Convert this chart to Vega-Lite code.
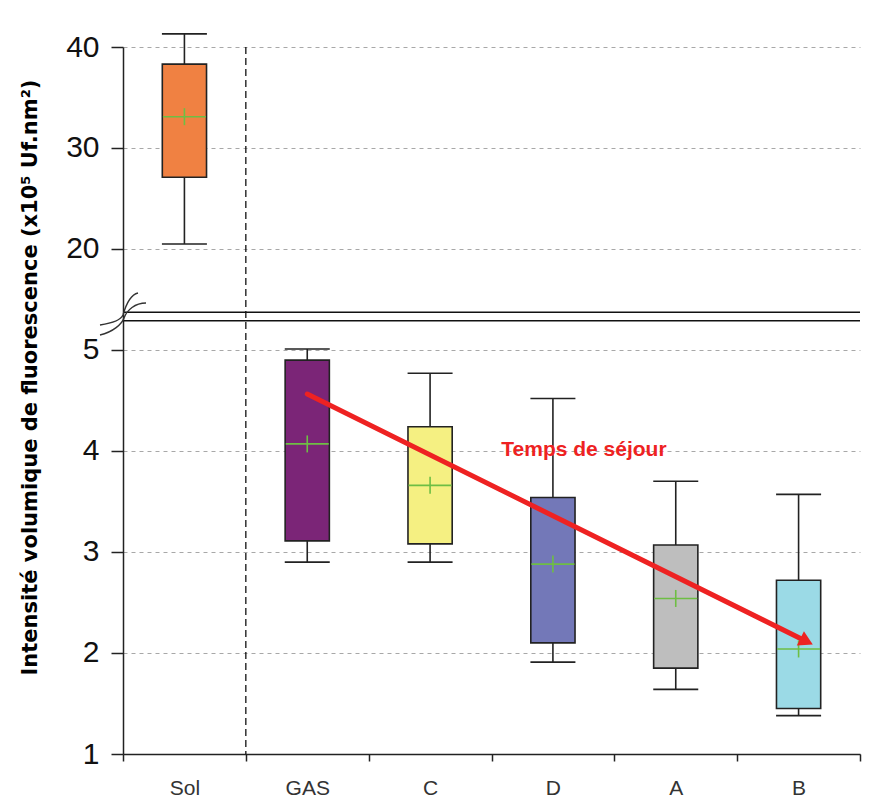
{
  "$schema": "https://vega.github.io/schema/vega-lite/v6.json",
  "width": 737,
  "height": 707,
  "autosize": {"type": "none"},
  "padding": {"left": 123, "top": 47, "right": 11, "bottom": 44},
  "background": "white",
  "config": {
    "view": {"stroke": null},
    "font": "Liberation Sans",
    "axisX": {
      "domainColor": "#222", "domainWidth": 1.5, "tickColor": "#222", "tickWidth": 1.5, "tickSize": 7,
      "tickBand": "extent", "labelFontSize": 21, "labelFont": "Liberation Sans", "labelColor": "#333",
      "labelAngle": 0, "labelBaseline": "alphabetic", "labelPadding": 33, "grid": false
    },
    "axisY": {
      "domainColor": "#222", "domainWidth": 1.5, "tickColor": "#222", "tickWidth": 1.5, "tickSize": 12,
      "labelFontSize": 30, "labelFont": "Liberation Sans", "labelColor": "#111", "labelPadding": 12,
      "grid": true, "gridColor": "#A8A8A8", "gridDash": [4, 4], "gridWidth": 1,
      "titleFont": "DejaVu Sans", "titleFontWeight": "bold", "titleFontSize": 21, "titleColor": "#000"
    }
  },
  "data": {
    "values": [
      {"cat": "Sol", "min": 20.5, "q1": 27.1, "median": 33.1, "mean": 33.1, "q3": 38.3, "max": 41.3},
      {"cat": "GAS", "min": 2.9, "q1": 3.11, "median": 4.07, "mean": 4.07, "q3": 4.9, "max": 5.01},
      {"cat": "C", "min": 2.9, "q1": 3.08, "median": 3.66, "mean": 3.66, "q3": 4.24, "max": 4.77},
      {"cat": "D", "min": 1.91, "q1": 2.1, "median": 2.88, "mean": 2.88, "q3": 3.54, "max": 4.52},
      {"cat": "A", "min": 1.64, "q1": 1.85, "median": 2.54, "mean": 2.54, "q3": 3.07, "max": 3.7},
      {"cat": "B", "min": 1.38, "q1": 1.45, "median": 2.04, "mean": 2.04, "q3": 2.72, "max": 3.57}
    ]
  },
  "layer": [
    {
      "data": {"values": [{"cat": "GAS"}]},
      "mark": {"type": "rule", "color": "#111", "strokeWidth": 1.3, "strokeDash": [7, 4]},
      "encoding": {
        "x": {"field": "cat", "type": "nominal", "bandPosition": 0, "title": null,
              "scale": {"domain": ["Sol", "GAS", "C", "D", "A", "B"], "paddingInner": 0, "paddingOuter": 0}}
      }
    },
    {
      "data": {"values": [{"brk": 5.29}, {"brk": 13.73}]},
      "mark": {"type": "rule", "color": "#111", "strokeWidth": 1.4},
      "encoding": {
        "y": {"field": "brk", "type": "quantitative", "title": "Intensité volumique de fluorescence (x10⁵ Uf.nm²)",
              "scale": {"domain": [1, 5.29, 13.73, 40], "range": [707, 273.7, 265.3, 0], "nice": false, "zero": false},
              "axis": {"values": [1, 2, 3, 4, 5, 20, 30, 40], "format": "d", "titleX": -87, "titleY": 330, "titleAngle": 270, "titleAlign": "center", "titleBaseline": "alphabetic"}}
      }
    },
    {
      "mark": {"type": "rule", "color": "#222", "strokeWidth": 1.6},
      "encoding": {
        "x": {"field": "cat", "type": "nominal", "title": null,
              "scale": {"domain": ["Sol", "GAS", "C", "D", "A", "B"], "paddingInner": 0, "paddingOuter": 0}},
        "y": {"field": "min", "type": "quantitative", "title": "Intensité volumique de fluorescence (x10⁵ Uf.nm²)",
              "scale": {"domain": [1, 5.29, 13.73, 40], "range": [707, 273.7, 265.3, 0], "nice": false, "zero": false}},
        "y2": {"field": "max"}
      }
    },
    {
      "mark": {"type": "tick", "color": "#222", "thickness": 1.6, "size": 45, "opacity": 1},
      "encoding": {
        "x": {"field": "cat", "type": "nominal", "title": null,
              "scale": {"domain": ["Sol", "GAS", "C", "D", "A", "B"], "paddingInner": 0, "paddingOuter": 0}},
        "y": {"field": "min", "type": "quantitative", "title": "Intensité volumique de fluorescence (x10⁵ Uf.nm²)",
              "scale": {"domain": [1, 5.29, 13.73, 40], "range": [707, 273.7, 265.3, 0], "nice": false, "zero": false}}
      }
    },
    {
      "mark": {"type": "tick", "color": "#222", "thickness": 1.6, "size": 45, "opacity": 1},
      "encoding": {
        "x": {"field": "cat", "type": "nominal", "title": null,
              "scale": {"domain": ["Sol", "GAS", "C", "D", "A", "B"], "paddingInner": 0, "paddingOuter": 0}},
        "y": {"field": "max", "type": "quantitative", "title": "Intensité volumique de fluorescence (x10⁵ Uf.nm²)",
              "scale": {"domain": [1, 5.29, 13.73, 40], "range": [707, 273.7, 265.3, 0], "nice": false, "zero": false}}
      }
    },
    {
      "mark": {"type": "bar", "stroke": "#222", "strokeWidth": 1.6, "width": {"band": 0.36}},
      "encoding": {
        "x": {"field": "cat", "type": "nominal", "title": null,
              "scale": {"domain": ["Sol", "GAS", "C", "D", "A", "B"], "paddingInner": 0, "paddingOuter": 0}},
        "y": {"field": "q1", "type": "quantitative", "title": "Intensité volumique de fluorescence (x10⁵ Uf.nm²)",
              "scale": {"domain": [1, 5.29, 13.73, 40], "range": [707, 273.7, 265.3, 0], "nice": false, "zero": false}},
        "y2": {"field": "q3"},
        "fill": {"field": "cat", "type": "nominal", "legend": null,
                 "scale": {"domain": ["Sol", "GAS", "C", "D", "A", "B"], "range": ["#F08142", "#7B2577", "#F5F082", "#7378B8", "#BEBEBE", "#9BDAE6"]}}
      }
    },
    {
      "mark": {"type": "tick", "color": "#6EBE44", "thickness": 1.6, "size": 43, "opacity": 1},
      "encoding": {
        "x": {"field": "cat", "type": "nominal", "title": null,
              "scale": {"domain": ["Sol", "GAS", "C", "D", "A", "B"], "paddingInner": 0, "paddingOuter": 0}},
        "y": {"field": "median", "type": "quantitative", "title": "Intensité volumique de fluorescence (x10⁵ Uf.nm²)",
              "scale": {"domain": [1, 5.29, 13.73, 40], "range": [707, 273.7, 265.3, 0], "nice": false, "zero": false}}
      }
    },
    {
      "mark": {"type": "tick", "orient": "vertical", "color": "#6EBE44", "thickness": 1.6, "size": 17, "opacity": 1},
      "encoding": {
        "x": {"field": "cat", "type": "nominal", "title": null,
              "scale": {"domain": ["Sol", "GAS", "C", "D", "A", "B"], "paddingInner": 0, "paddingOuter": 0}},
        "y": {"field": "mean", "type": "quantitative", "title": "Intensité volumique de fluorescence (x10⁵ Uf.nm²)",
              "scale": {"domain": [1, 5.29, 13.73, 40], "range": [707, 273.7, 265.3, 0], "nice": false, "zero": false}}
      }
    },
    {
      "data": {"values": [{"from": "GAS", "to": "B", "y_start": 4.564, "y_end": 2.114}]},
      "mark": {"type": "rule", "color": "#EE2222", "strokeWidth": 5, "strokeCap": "round", "x2Offset": 8},
      "encoding": {
        "x": {"field": "from", "type": "nominal", "bandPosition": 0.5, "title": null,
              "scale": {"domain": ["Sol", "GAS", "C", "D", "A", "B"], "paddingInner": 0, "paddingOuter": 0}},
        "x2": {"field": "to", "bandPosition": 0.5},
        "y": {"field": "y_start", "type": "quantitative", "title": "Intensité volumique de fluorescence (x10⁵ Uf.nm²)",
              "scale": {"domain": [1, 5.29, 13.73, 40], "range": [707, 273.7, 265.3, 0], "nice": false, "zero": false}},
        "y2": {"field": "y_end"}
      }
    },
    {
      "data": {"values": [{"to": "B", "y_end": 2.114}]},
      "mark": {"type": "point", "shape": "triangle-right", "filled": true, "color": "#EE2222", "size": 256, "angle": 26.35, "xOffset": 8, "opacity": 1},
      "encoding": {
        "x": {"field": "to", "type": "nominal", "title": null,
              "scale": {"domain": ["Sol", "GAS", "C", "D", "A", "B"], "paddingInner": 0, "paddingOuter": 0}},
        "y": {"field": "y_end", "type": "quantitative", "title": "Intensité volumique de fluorescence (x10⁵ Uf.nm²)",
              "scale": {"domain": [1, 5.29, 13.73, 40], "range": [707, 273.7, 265.3, 0], "nice": false, "zero": false}}
      }
    },
    {
      "data": {"values": [{"cat": "D", "label": "Temps de séjour", "ty": 3.955}]},
      "mark": {"type": "text", "color": "#EE2222", "font": "Liberation Sans", "fontWeight": "bold", "fontSize": 21, "dx": 31, "align": "center", "baseline": "alphabetic"},
      "encoding": {
        "x": {"field": "cat", "type": "nominal", "title": null,
              "scale": {"domain": ["Sol", "GAS", "C", "D", "A", "B"], "paddingInner": 0, "paddingOuter": 0}},
        "y": {"field": "ty", "type": "quantitative", "title": "Intensité volumique de fluorescence (x10⁵ Uf.nm²)",
              "scale": {"domain": [1, 5.29, 13.73, 40], "range": [707, 273.7, 265.3, 0], "nice": false, "zero": false}},
        "text": {"field": "label"}
      }
    },
    {
      "data": {"values": [{"cat": "Sol", "yb": 11}]},
      "mark": {"type": "point", "shape": "M -23 10 C -10 8 -2 5 0 0 C 2 -7 6 -20 15 -22 M -23 20 C -10 17 -1 9 1 3 C 4 -5 12 -12 23 -12", "size": 4, "filled": false, "color": "#333", "strokeWidth": 1.4, "opacity": 1},
      "encoding": {
        "x": {"field": "cat", "type": "nominal", "bandPosition": 0, "title": null,
              "scale": {"domain": ["Sol", "GAS", "C", "D", "A", "B"], "paddingInner": 0, "paddingOuter": 0}},
        "y": {"field": "yb", "type": "quantitative", "title": "Intensité volumique de fluorescence (x10⁵ Uf.nm²)",
              "scale": {"domain": [1, 5.29, 13.73, 40], "range": [707, 273.7, 265.3, 0], "nice": false, "zero": false}}
      }
    }
  ]
}
